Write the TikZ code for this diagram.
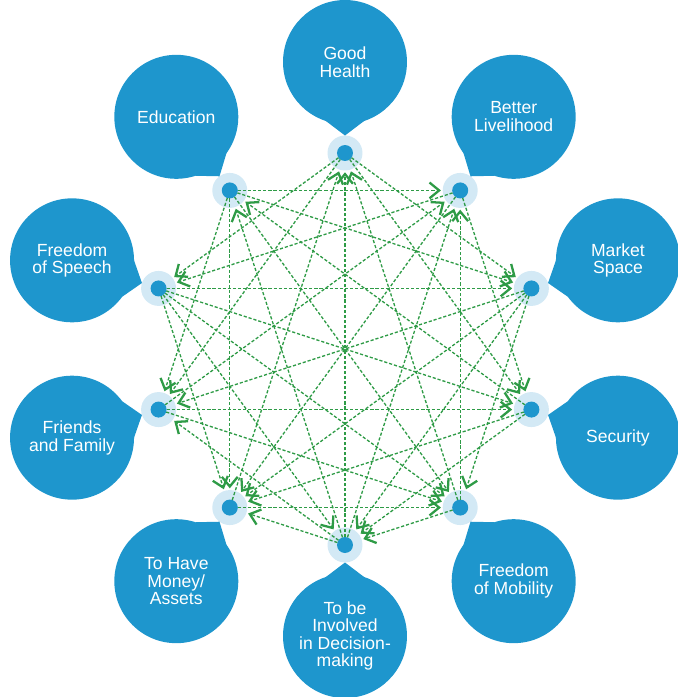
\documentclass[tikz,border=0pt]{standalone}
\usepackage{fontspec}
\setmainfont{Liberation Sans}
\usetikzlibrary{arrows.meta,positioning}
\definecolor{bubbleblue}{RGB}{30,150,205}
\definecolor{haloblue}{RGB}{211,233,245}
\definecolor{linkgreen}{RGB}{46,155,70}

\begin{document}
\begin{tikzpicture}[x=0.02cm, y=0.02cm,
    bubble/.style={circle, fill=bubbleblue, minimum size=2.48cm, inner sep=0pt, outer sep=0pt, text=white, align=center, font=\fontsize{10}{10}\selectfont},
    ring/.style={circle, fill=haloblue, minimum size=0.7cm, inner sep=0pt, outer sep=0pt},
    pt/.style={circle, fill=bubbleblue, minimum size=0.32cm, inner sep=0pt, outer sep=0pt},
    link/.style={-{Straight Barb[length=5.5pt,width=9pt,line width=1.3pt]}, linkgreen, line width=0.75pt, dash pattern=on 1.8pt off 1.1pt, shorten >=1pt},
]
\useasboundingbox (-345,-348) rectangle (332,349);

% Bubbles
\node[bubble] (health) at (90:287) {Good\\Health};
\node[bubble] (liveli) at (54:287) {Better\\Livelihood};
\node[bubble] (market) at (18:287) {Market\\Space};
\node[bubble] (security) at (-18:287) {Security};
\node[bubble] (mobility) at (-54:287) {Freedom\\of Mobility};
\node[bubble] (decision) at (-90:287) {To be\\Involved\\in Decision-\\making};
\node[bubble] (money) at (-126:287) {To Have\\Money/\\Assets};
\node[bubble] (family) at (-162:287) {Friends\\and Family};
\node[bubble] (speech) at (162:287) {Freedom\\of Speech};
\node[bubble] (educ) at (126:287) {Education};

% Points
\node[ring] (healthring) at (90:196) {};
\node[ring] (liveliring) at (54:196) {};
\node[ring] (marketring) at (18:196) {};
\node[ring] (securityring) at (-18:196) {};
\node[ring] (mobilityring) at (-54:196) {};
\node[ring] (decisionring) at (-90:196) {};
\node[ring] (moneyring) at (-126:196) {};
\node[ring] (familyring) at (-162:196) {};
\node[ring] (speechring) at (162:196) {};
\node[ring] (educring) at (126:196) {};

% Pointers
\fill[bubbleblue] (health.252) -- (healthring.90) -- (health.288) -- cycle;
\fill[bubbleblue] (liveli.216) -- (liveliring.54) -- (liveli.252) -- cycle;
\fill[bubbleblue] (market.180) -- (marketring.18) -- (market.216) -- cycle;
\fill[bubbleblue] (security.144) -- (securityring.342) -- (security.180) -- cycle;
\fill[bubbleblue] (mobility.108) -- (mobilityring.306) -- (mobility.144) -- cycle;
\fill[bubbleblue] (decision.72) -- (decisionring.270) -- (decision.108) -- cycle;
\fill[bubbleblue] (money.36) -- (moneyring.234) -- (money.72) -- cycle;
\fill[bubbleblue] (family.0) -- (familyring.198) -- (family.36) -- cycle;
\fill[bubbleblue] (speech.324) -- (speechring.162) -- (speech.360) -- cycle;
\fill[bubbleblue] (educ.288) -- (educring.126) -- (educ.324) -- cycle;

\node[pt] (healthpt) at (healthring) {};
\node[pt] (livelipt) at (liveliring) {};
\node[pt] (marketpt) at (marketring) {};
\node[pt] (securitypt) at (securityring) {};
\node[pt] (mobilitypt) at (mobilityring) {};
\node[pt] (decisionpt) at (decisionring) {};
\node[pt] (moneypt) at (moneyring) {};
\node[pt] (familypt) at (familyring) {};
\node[pt] (speechpt) at (speechring) {};
\node[pt] (educpt) at (educring) {};

% Links
\draw[link] (healthpt) -- (marketring);
\draw[link] (healthpt) -- (securityring);
\draw[link] (healthpt) -- (familyring);
\draw[link] (healthpt) -- (speechring);
\draw[link] (mobilitypt) -- (healthring);
\draw[link] (decisionpt) -- (healthring);
\draw[link] (moneypt) -- (healthring);
\draw[link] (livelipt) -- (securityring);
\draw[link] (livelipt) -- (moneyring);
\draw[link] (livelipt) -- (speechring);
\draw[link] (educpt) -- (liveliring);
\draw[link] (familypt) -- (liveliring);
\draw[link] (decisionpt) -- (liveliring);
\draw[link] (mobilitypt) -- (liveliring);
\draw[link] (marketpt) -- (mobilityring);
\draw[link] (marketpt) -- (decisionring);
\draw[link] (marketpt) -- (familyring);
\draw[link] (marketpt) -- (moneyring);
\draw[link] (educpt) -- (marketring);
\draw[link] (speechpt) -- (marketring);
\draw[link] (securitypt) -- (decisionring);
\draw[link] (securitypt) -- (moneyring);
\draw[link] (securitypt) -- (educring);
\draw[link] (familypt) -- (securityring);
\draw[link] (speechpt) -- (securityring);
\draw[link] (mobilitypt) -- (decisionring);
\draw[link] (familypt) -- (mobilityring);
\draw[link] (moneypt) -- (mobilityring);
\draw[link] (speechpt) -- (mobilityring);
\draw[link] (educpt) -- (mobilityring);
\draw[link] (decisionpt) -- (moneyring);
\draw[link] (decisionpt) -- (familyring);
\draw[link] (decisionpt) -- (educring);
\draw[link] (speechpt) -- (decisionring);
\draw[link] (speechpt) -- (moneyring);
\draw[link] (educpt) -- (moneyring);
\draw[link] (educpt) -- (familyring);
\end{tikzpicture}
\end{document}
